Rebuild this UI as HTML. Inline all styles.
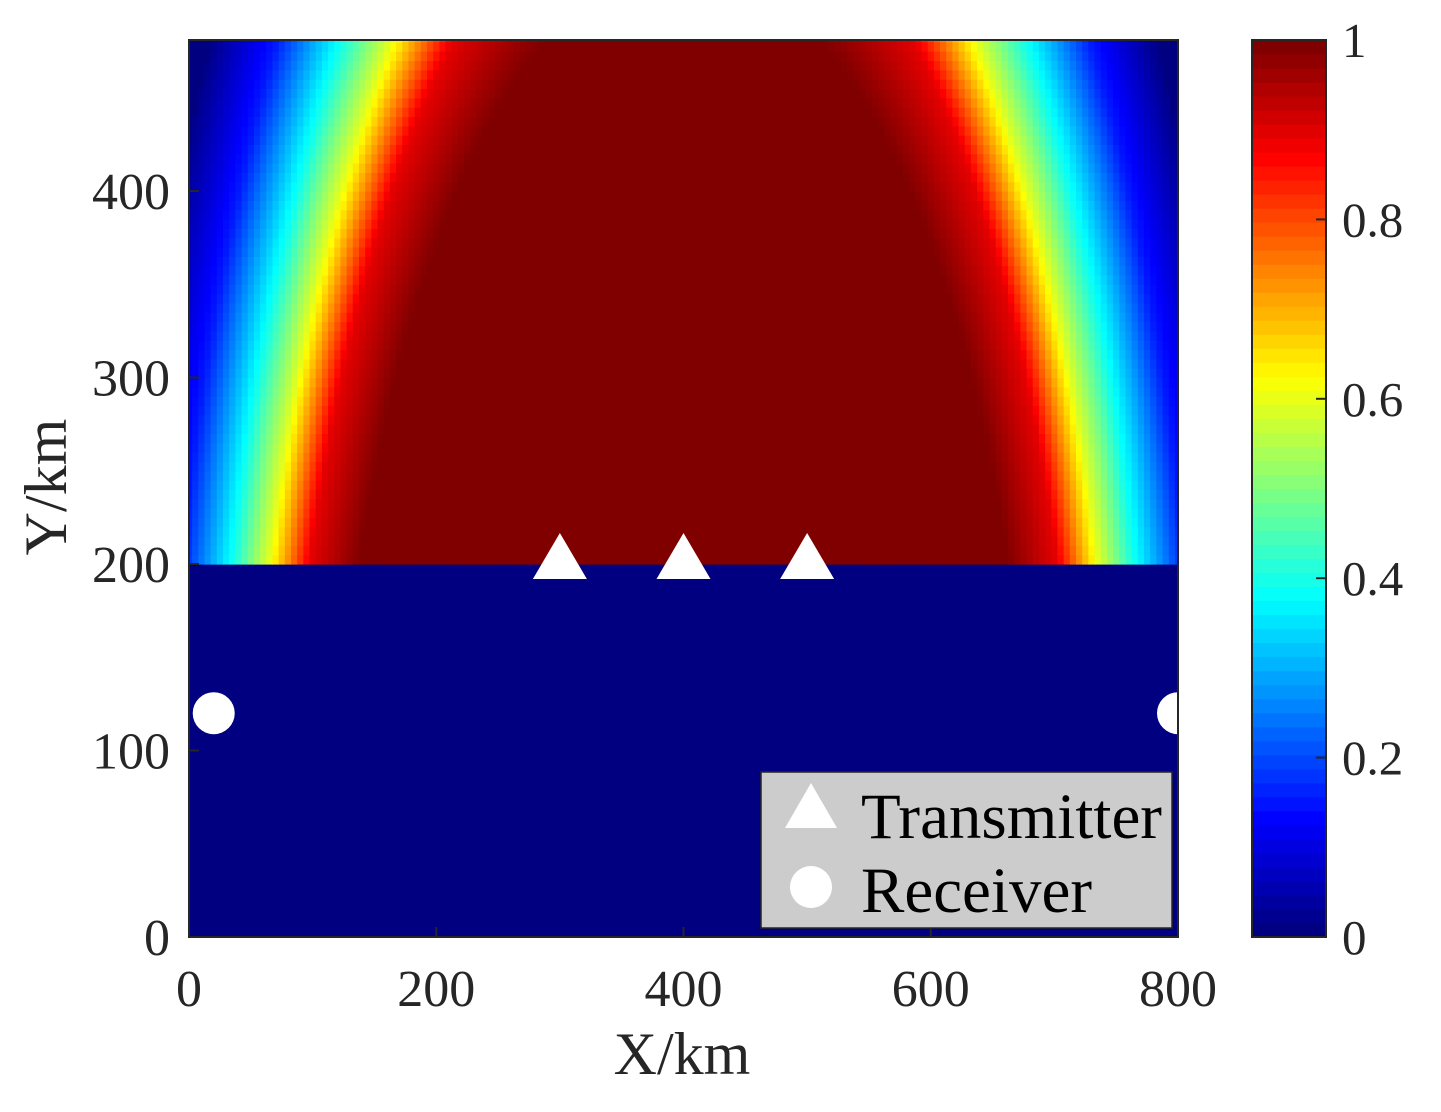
<!DOCTYPE html>
<html><head><meta charset="utf-8"><style>
body{margin:0;background:#fff;width:1441px;height:1112px;overflow:hidden;position:relative;font-family:"Liberation Serif",serif;}
svg{position:absolute;left:0;top:0}
</style></head><body>
<svg id="chart" width="1441" height="1112">
<defs><clipPath id="pc"><rect x="189" y="40" width="989" height="897"/></clipPath></defs>
<g id="cells" clip-path="url(#pc)"></g>
<g id="markers" clip-path="url(#pc)"></g>
<rect x="189" y="40" width="989" height="897" fill="none" stroke="#262626" stroke-width="2"/>
<g id="axes" font-size="52" fill="#262626"></g>
<g id="cbar"></g>
<g>
<rect x="761" y="772" width="411" height="156" fill="#cccccc" stroke="#262626" stroke-width="1.5"/>
<polygon points="811,783 785,828 837,828" fill="#fff"/>
<circle cx="811" cy="887" r="21" fill="#fff"/>
<text x="861" y="838" font-size="65" fill="#000">Transmitter</text>
<text x="861" y="912" font-size="65" fill="#000">Receiver</text>
</g>
<text x="682" y="1074" font-size="60" text-anchor="middle" fill="#262626">X/km</text>
<text transform="translate(66,487) rotate(-90)" font-size="60" text-anchor="middle" fill="#262626">Y/km</text>
</svg>
<script>
const xTicks=[0,200,400,600,800];
const yTicks=[0,100,200,300,400];
const cbTicks=[0,0.2,0.4,0.6,0.8,1];
const sKnots=[0,284,321,352,379,420,465];
const vKnots=[1,1,0.9,0.6,0.4,0.15,0];
const transmittersX=[300,400,500];
const transmittersY=[200,200,200];
const receiversX=[20,800];
const receiversY=[120,120];
const X0=189,X1=1178,Y0=937,Ypx100=186.5;
const xs=x=>X0+(x/800)*(X1-X0);
const ys=y=>Y0-y*Ypx100/100;
function jet(v){v=Math.max(0,Math.min(1,v));
 const c=t=>Math.round(255*Math.max(0,Math.min(1,1.5-Math.abs(4*v-t))));
 return `rgb(${c(3)},${c(2)},${c(1)})`;}
function interp(s){if(s>=sKnots[sKnots.length-1])return 0;
 for(let i=1;i<sKnots.length;i++)if(s<=sKnots[i]){const t=(s-sKnots[i-1])/(sKnots[i]-sKnots[i-1]);return vKnots[i-1]+t*(vKnots[i]-vKnots[i-1]);}return 0;}
const NS="http://www.w3.org/2000/svg";
const cells=document.getElementById('cells');
const bg=document.createElementNS(NS,'rect');
bg.setAttribute('x',X0);bg.setAttribute('y',40);bg.setAttribute('width',X1-X0);bg.setAttribute('height',Y0-40);bg.setAttribute('fill',jet(0));


cells.appendChild(bg);
const k=0.2985,step=5;
for(let y=200;y<485;y+=step){for(let x=0;x<=800;x+=step){
 const dx=x-400,s=Math.sqrt(dx*dx+k*y*y);const v=interp(s);if(v<=0.01)continue;
 const r=document.createElementNS(NS,'rect');
 r.setAttribute('x',xs(x-step/2));r.setAttribute('y',ys(y+step));
 r.setAttribute('width',(X1-X0)/800*step+0.6);r.setAttribute('height',Ypx100/100*step+0.6);
 r.setAttribute('fill',jet(v));
 
 
 cells.appendChild(r);}}
const mk=document.getElementById('markers');
transmittersX.forEach((x,i)=>{const cx=xs(x),cy=ys(transmittersY[i]);
 const p=document.createElementNS(NS,'polygon');
 p.setAttribute('points',`${cx},${cy-31} ${cx-27},${cy+15} ${cx+27},${cy+15}`);p.setAttribute('fill','#fff');
 
 
 mk.appendChild(p);});
receiversX.forEach((x,i)=>{const c=document.createElementNS(NS,'circle');
 c.setAttribute('cx',xs(x));c.setAttribute('cy',ys(receiversY[i]));c.setAttribute('r',21);c.setAttribute('fill','#fff');
 
 
 mk.appendChild(c);});
const ax=document.getElementById('axes');
xTicks.forEach(t=>{const X=xs(t);
 const l=document.createElementNS(NS,'line');l.setAttribute('x1',X);l.setAttribute('x2',X);l.setAttribute('y1',Y0);l.setAttribute('y2',Y0-10);l.setAttribute('stroke','#262626');l.setAttribute('stroke-width',2);
 
 
 ax.appendChild(l);
 const tx=document.createElementNS(NS,'text');tx.setAttribute('x',X);tx.setAttribute('y',1006);tx.setAttribute('text-anchor','middle');tx.textContent=t;
 
 
 ax.appendChild(tx);});
yTicks.forEach(t=>{const Y=ys(t);
 const l=document.createElementNS(NS,'line');l.setAttribute('x1',X0);l.setAttribute('x2',X0+10);l.setAttribute('y1',Y);l.setAttribute('y2',Y);l.setAttribute('stroke','#262626');l.setAttribute('stroke-width',2);
 
 
 ax.appendChild(l);
 const tx=document.createElementNS(NS,'text');tx.setAttribute('x',170);tx.setAttribute('y',Y+18);tx.setAttribute('text-anchor','end');tx.textContent=t;
 
 
 ax.appendChild(tx);});
const cb=document.getElementById('cbar');
const CB0=1252,CB1=1326,CT=40,CBt=937;
for(let i=0;i<64;i++){const r=document.createElementNS(NS,'rect');const h=(CBt-CT)/64;
 r.setAttribute('x',CB0);r.setAttribute('y',CBt-(i+1)*h);r.setAttribute('width',CB1-CB0);r.setAttribute('height',h+0.5);r.setAttribute('fill',jet(i/63));
 
 
 cb.appendChild(r);}
const fr=document.createElementNS(NS,'rect');fr.setAttribute('x',CB0);fr.setAttribute('y',CT);fr.setAttribute('width',CB1-CB0);fr.setAttribute('height',CBt-CT);fr.setAttribute('fill','none');fr.setAttribute('stroke','#262626');fr.setAttribute('stroke-width',2);


cb.appendChild(fr);
cbTicks.forEach(t=>{const Y=CBt-t*(CBt-CT);
 const l=document.createElementNS(NS,'line');l.setAttribute('x1',CB1);l.setAttribute('x2',CB1-10);l.setAttribute('y1',Y);l.setAttribute('y2',Y);l.setAttribute('stroke','#262626');l.setAttribute('stroke-width',2);
 
 
 cb.appendChild(l);
 const tx=document.createElementNS(NS,'text');tx.setAttribute('x',1342);tx.setAttribute('y',Y+17);tx.setAttribute('font-size',49);tx.setAttribute('fill','#262626');tx.textContent=t;
 
 
 cb.appendChild(tx);});
</script>
</body></html>
